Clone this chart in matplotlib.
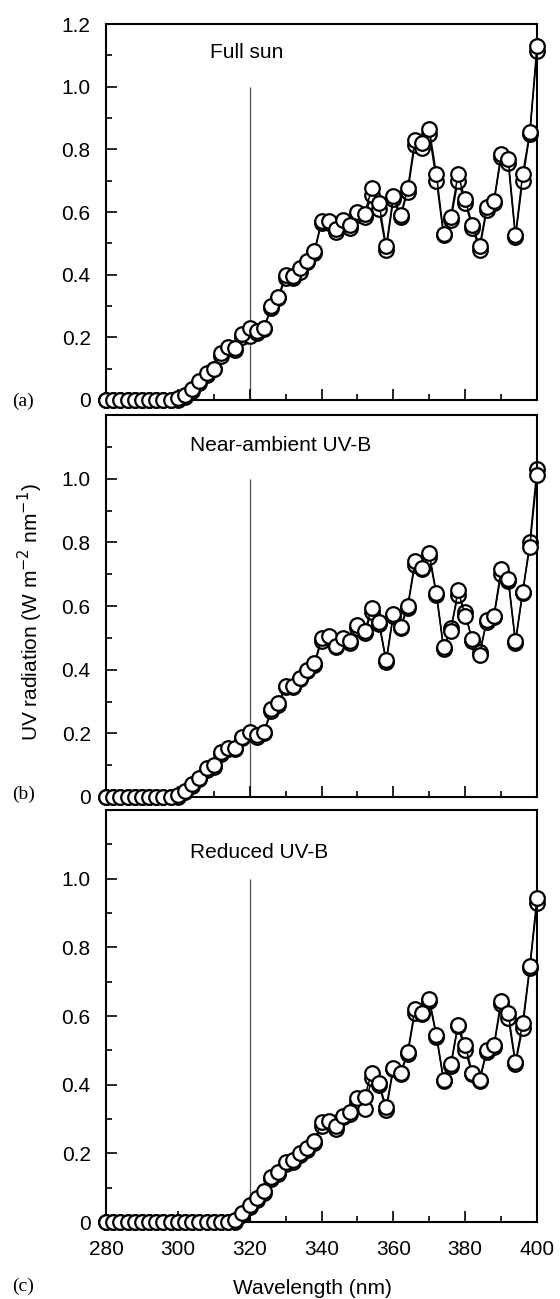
#!/usr/bin/env python3
import matplotlib

matplotlib.use("Agg")
import matplotlib.pyplot as plt
from matplotlib.ticker import FixedLocator, MultipleLocator, FuncFormatter

# wavelengths sampled every 2 nm
wavelength = list(range(280, 401, 2))

# two overlapping scans per treatment (front / back)
full_sun_a = [0, 0, 0, 0, 0, 0, 0, 0, 0, 0,
              0.005, 0.015, 0.035, 0.06, 0.085, 0.10, 0.15, 0.17, 0.165, 0.21,
              0.23, 0.22, 0.23, 0.30, 0.33, 0.40, 0.395, 0.42, 0.445, 0.475,
              0.57, 0.57, 0.545, 0.575, 0.56, 0.60, 0.595, 0.675, 0.63, 0.49,
              0.65, 0.59, 0.675, 0.83, 0.82, 0.865, 0.72, 0.53, 0.585, 0.72,
              0.64, 0.56, 0.49, 0.615, 0.635, 0.785, 0.77, 0.525, 0.72, 0.855,
              1.13]
full_sun_b = [0, 0, 0, 0, 0, 0, 0, 0, 0, 0,
              0.0, 0.01, 0.03, 0.055, 0.08, 0.10, 0.14, 0.165, 0.16, 0.20,
              0.205, 0.215, 0.225, 0.295, 0.325, 0.39, 0.39, 0.41, 0.44, 0.47,
              0.565, 0.565, 0.535, 0.565, 0.55, 0.59, 0.585, 0.655, 0.61, 0.48,
              0.64, 0.585, 0.665, 0.815, 0.805, 0.85, 0.70, 0.525, 0.575, 0.70,
              0.63, 0.55, 0.48, 0.605, 0.63, 0.775, 0.755, 0.52, 0.70, 0.85,
              1.115]

near_amb_a = [0, 0, 0, 0, 0, 0, 0, 0, 0, 0,
              0.005, 0.02, 0.04, 0.06, 0.09, 0.10, 0.14, 0.155, 0.155, 0.19,
              0.205, 0.195, 0.205, 0.275, 0.295, 0.35, 0.35, 0.375, 0.40, 0.42,
              0.50, 0.505, 0.475, 0.50, 0.49, 0.54, 0.52, 0.595, 0.55, 0.43,
              0.575, 0.535, 0.60, 0.74, 0.72, 0.765, 0.64, 0.47, 0.52, 0.65,
              0.57, 0.495, 0.445, 0.555, 0.57, 0.715, 0.685, 0.49, 0.645, 0.785,
              1.01]
near_amb_b = [0, 0, 0, 0, 0, 0, 0, 0, 0, 0,
              0.0, 0.015, 0.035, 0.055, 0.085, 0.095, 0.135, 0.15, 0.15, 0.185,
              0.20, 0.19, 0.20, 0.27, 0.29, 0.345, 0.345, 0.37, 0.395, 0.415,
              0.49, 0.50, 0.47, 0.495, 0.485, 0.53, 0.515, 0.58, 0.545, 0.425,
              0.57, 0.53, 0.595, 0.73, 0.715, 0.755, 0.635, 0.465, 0.53, 0.635,
              0.58, 0.49, 0.455, 0.55, 0.565, 0.70, 0.68, 0.485, 0.64, 0.80,
              1.03]

reduced_a = [0, 0, 0, 0, 0, 0, 0, 0, 0, 0,
             0, 0, 0, 0, 0, 0, 0, 0, 0.005, 0.025,
             0.05, 0.07, 0.09, 0.13, 0.145, 0.175, 0.18, 0.20, 0.215, 0.235,
             0.29, 0.295, 0.28, 0.31, 0.32, 0.36, 0.365, 0.435, 0.405, 0.335,
             0.45, 0.435, 0.495, 0.62, 0.61, 0.65, 0.545, 0.415, 0.46, 0.575,
             0.515, 0.435, 0.415, 0.50, 0.515, 0.645, 0.61, 0.465, 0.58, 0.745,
             0.945]
reduced_b = [0, 0, 0, 0, 0, 0, 0, 0, 0, 0,
             0, 0, 0, 0, 0, 0, 0, 0, 0.0, 0.02,
             0.045, 0.065, 0.085, 0.125, 0.14, 0.17, 0.175, 0.195, 0.21, 0.23,
             0.28, 0.29, 0.27, 0.305, 0.315, 0.35, 0.33, 0.42, 0.40, 0.325,
             0.445, 0.43, 0.49, 0.61, 0.605, 0.645, 0.54, 0.41, 0.455, 0.57,
             0.50, 0.43, 0.41, 0.495, 0.51, 0.635, 0.595, 0.46, 0.565, 0.74,
             0.93]

titles = ["Full sun", "Near-ambient UV-B", "Reduced UV-B"]
panel_tags = ["(a)", "(b)", "(c)"]
title_pos = [(309, 1.11), (303.5, 1.105), (303.5, 1.075)]
uvb_limit_nm = 320
uvb_line_top = 1.0

SANS = "Liberation Sans"
SERIF = "Liberation Serif"
FS = 15

W, H = 560, 1299
# axes boxes in pixels: left, top, right, bottom
boxes = [(106, 24, 537, 400), (106, 415, 537, 797), (106, 810, 537, 1222)]


def px_rect(b):
    l, t, r, bt = b
    return [l / W, 1 - bt / H, (r - l) / W, (bt - t) / H]


def fmt_y(v, _):
    if abs(v) < 1e-9:
        return "0"
    return f"{v:.1f}"


def main() -> None:
    fig = plt.figure(figsize=(W / 100, H / 100), dpi=100)
    series = [(full_sun_a, full_sun_b), (near_amb_a, near_amb_b), (reduced_a, reduced_b)]

    for i, (front, back) in enumerate(series):
        ax = fig.add_axes(px_rect(boxes[i]))
        ax.vlines(uvb_limit_nm, 0, uvb_line_top, color="0.3", lw=0.9, zorder=1)
        for vals, z in ((back, 2), (front, 3)):
            ax.plot(wavelength, vals, color="black", lw=1.1, marker="o",
                    markersize=10.5, markerfacecolor="white",
                    markeredgecolor="black", markeredgewidth=1.6,
                    clip_on=False, zorder=z)
        ax.set_xlim(280, 400)
        ax.set_ylim(0, 1.2)
        ax.yaxis.set_major_locator(FixedLocator([0, 0.2, 0.4, 0.6, 0.8, 1.0, 1.2]))
        ax.yaxis.set_minor_locator(MultipleLocator(0.1))
        ax.xaxis.set_major_locator(MultipleLocator(20))
        ax.xaxis.set_minor_locator(MultipleLocator(10))
        if i == 0:
            ax.yaxis.set_major_formatter(FuncFormatter(fmt_y))
        else:
            ax.yaxis.set_major_formatter(
                FuncFormatter(lambda v, p: "" if v > 1.1 else fmt_y(v, p)))
        ax.tick_params(which="both", direction="in", width=1.2,
                       top=False, right=False)
        ax.tick_params(which="major", length=8)
        ax.tick_params(which="minor", length=4)
        ax.tick_params(axis="y", labelsize=FS, pad=11)
        ax.tick_params(axis="x", labelsize=FS, pad=13)
        if i < 2:
            ax.tick_params(axis="x", labelbottom=False)
        for lab in ax.get_xticklabels() + ax.get_yticklabels():
            lab.set_fontfamily(SANS)
        for sp in ax.spines.values():
            sp.set_linewidth(1.5)
        tx, ty = title_pos[i]
        ax.text(tx, ty, titles[i], fontsize=FS, family=SANS, va="center")
        tag_y = 401 if i == 0 else (794 if i == 1 else 1286)
        fig.text(12 / W, 1 - tag_y / H, panel_tags[i], fontsize=14,
                 family=SERIF, va="center", ha="left")

    fig.text(30 / W, 1 - 612 / H, "UV radiation (W m$^{-2}$ nm$^{-1}$)",
             rotation=90, fontsize=FS, family=SANS, ha="center", va="center")
    fig.text(312 / W, 1 - 1288 / H, "Wavelength (nm)", fontsize=FS,
             family=SANS, ha="center", va="center")

    fig.savefig("out.png", dpi=100)


if __name__ == "__main__":
    main()
